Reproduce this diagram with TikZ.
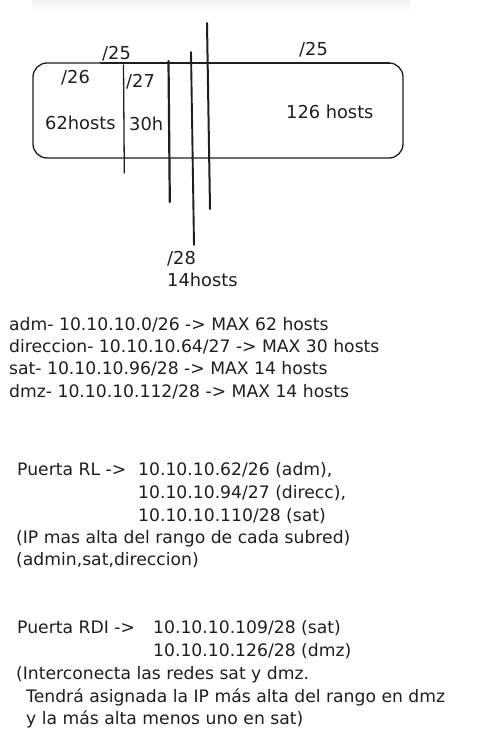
\documentclass[tikz,border=0pt]{standalone}
\usepackage{fontspec}
\newfontfamily\hand{DejaVu Sans}
\definecolor{ink}{HTML}{1E1E1E}
\begin{document}
\begin{tikzpicture}[x=1pt,y=-1pt,
  lbl/.style={anchor=base west,inner sep=0pt,text=ink,font=\hand\fontsize{17.8}{20}\selectfont},
  txt/.style={anchor=base west,inner sep=0pt,text=ink,font=\hand\fontsize{17.2}{20}\selectfont},
  thin/.style={draw=ink,line width=1.3pt,line cap=round},
  thick/.style={draw=ink,line width=2.2pt,line cap=round}]
\useasboundingbox (0,0) rectangle (477,751);
% faint shadow at the top
\shade[top color=black!7,bottom color=white,rounded corners=6pt] (32,-4) rectangle (410,13);
% box
\draw[thin,rounded corners=14pt] (33,63) rectangle (403,158);
\coordinate (t1) at (101,63);
\coordinate (t2) at (389,63);
\draw[thick] (t1) -- (t2);
% vertical lines
\coordinate (v1a) at (123.5,65); \coordinate (v1b) at (124.3,173);
\coordinate (v2a) at (168.5,61); \coordinate (v2b) at (169.8,202);
\coordinate (v3a) at (191,52);  \coordinate (v3b) at (194,245);
\coordinate (v4a) at (207,23);  \coordinate (v4b) at (210,209);
\draw[thin] (v1a) -- (v1b);
\draw[thick] (v2a) -- (v2b);
\draw[thick,line width=1.9pt] (v3a) -- (v3b);
\draw[thick,line width=2.0pt] (v4a) -- (v4b);
% diagram labels
\node[lbl] (l25a) at (102,60) {/25};
\node[lbl] (l25b) at (299,56) {/25};
\node[lbl] (l26) at (61,84) {/26};
\node[lbl] (l27) at (126,88) {/27};
\node[lbl] (h62) at (45,130) {62hosts};
\node[lbl] (h30) at (129,131) {30h};
\node[lbl] (h126) at (286,119) {126 hosts};
\node[lbl] (l28) at (167,264) {/28};
\node[lbl] (h14) at (167,286) {14hosts};
% subnet list
\node[txt] (s1) at (9,330) {adm- 10.10.10.0/26 -> MAX 62 hosts};
\node[txt] (s2) at (9,352) {direccion- 10.10.10.64/27 -> MAX 30 hosts};
\node[txt] (s3) at (9,374) {sat- 10.10.10.96/28 -> MAX 14 hosts};
\node[txt] (s4) at (9,397) {dmz- 10.10.10.112/28 -> MAX 14 hosts};
% Puerta RL
\node[txt] (r0) at (17,475) {Puerta RL ->};
\node[txt] (r1) at (138,475) {10.10.10.62/26 (adm),};
\node[txt] (r2) at (138,498) {10.10.10.94/27 (direcc),};
\node[txt] (r3) at (138,521) {10.10.10.110/28 (sat)};
\node[txt] (r4) at (16,543) {(IP mas alta del rango de cada subred)};
\node[txt] (r5) at (16,565) {(admin,sat,direccion)};
% Puerta RDI
\node[txt] (d0) at (17,633) {Puerta RDI ->};
\node[txt] (d1) at (153,633) {10.10.10.109/28 (sat)};
\node[txt] (d2) at (153,656) {10.10.10.126/28 (dmz)};
\node[txt] (d3) at (16,679) {(Interconecta las redes sat y dmz.};
\node[txt] (d4) at (26,702) {Tendrá asignada la IP más alta del rango en dmz};
\node[txt] (d5) at (26,724) {y la más alta menos uno en sat)};
\end{tikzpicture}
\end{document}
